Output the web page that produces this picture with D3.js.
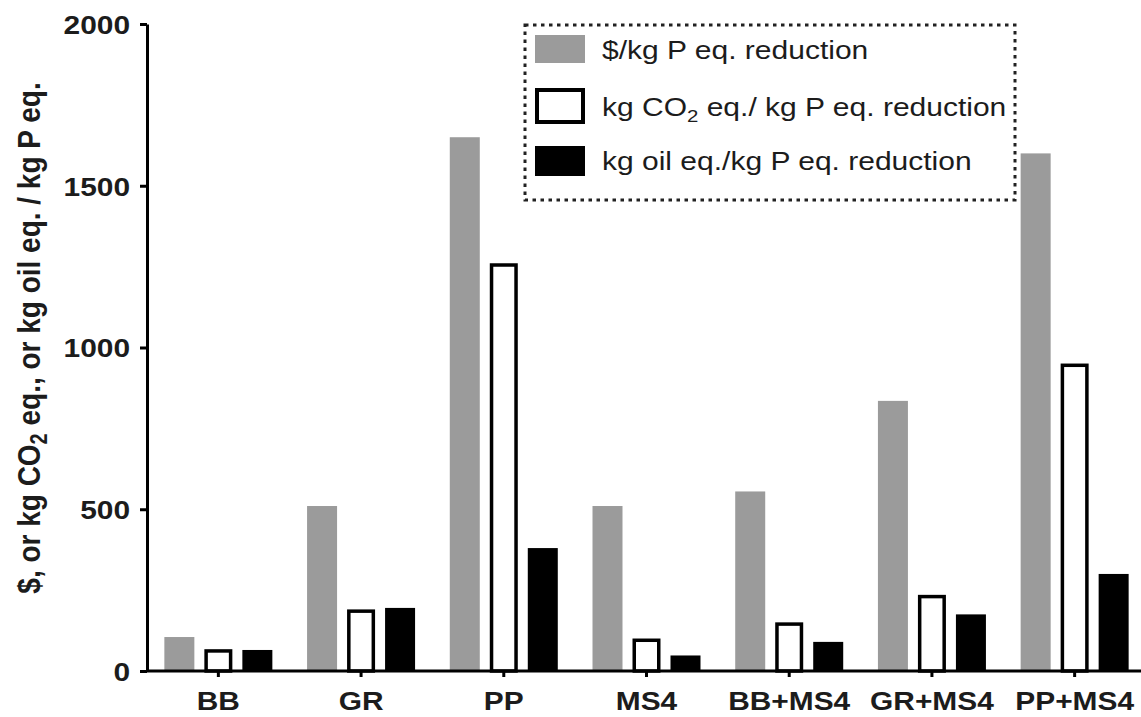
<!DOCTYPE html>
<html>
<head>
<meta charset="utf-8">
<script src="https://cdn.jsdelivr.net/npm/d3@7"></script>
<style>
  html, body { margin: 0; padding: 0; background: #fff; }
  svg { display: block; font-family: "Liberation Sans", Arial, Helvetica, sans-serif; }
</style>
</head>
<body>
<svg id="chart" width="1141" height="717"></svg>
<script>
// Treatment scenarios on the x axis
const categories = ["BB", "GR", "PP", "MS4", "BB+MS4", "GR+MS4", "PP+MS4"];

// Values per kg P eq. reduction, one array per indicator
const costPerKgP = [105, 510, 1650, 510, 555, 835, 1600];      // $/kg P eq.
const co2PerKgP  = [62, 185, 1255, 95, 145, 230, 945];         // kg CO2 eq./kg P eq.
const oilPerKgP  = [65, 195, 380, 48, 90, 175, 300];           // kg oil eq./kg P eq.

const seriesKeys = ["cost", "co2", "oil"];
const seriesValues = { cost: costPerKgP, co2: co2PerKgP, oil: oilPerKgP };

// Y axis ticks
const yTicks = [0, 500, 1000, 1500, 2000];

const svg = d3.select("#chart");
const W = 1141;
const plotLeft = 147, plotRight = 1146, plotTop = 24, plotBottom = 671;
const sx = 1.15;   // horizontal stretch of the lettering

const x = d3.scaleBand().domain(categories).range([plotLeft, plotRight]).paddingInner(0).paddingOuter(0);
const xSub = d3.scaleBand().domain(seriesKeys).range([-54, 54]).paddingInner(0.2308);
const y = d3.scaleLinear().domain([0, 2000]).range([plotBottom, plotTop]);

const textColor = "#1c1c1c";
const barStyle = {
  cost: { fill: "#9b9b9b", stroke: "none", sw: 0 },
  co2:  { fill: "#ffffff", stroke: "#000", sw: 3.5 },
  oil:  { fill: "#000000", stroke: "none", sw: 0 }
};

// Bars
const groups = svg.append("g").selectAll("g")
  .data(categories)
  .join("g")
  .attr("transform", d => `translate(${x(d) + x.bandwidth() / 2},0)`);

groups.selectAll("rect")
  .data((d, i) => seriesKeys.map(k => ({ key: k, value: seriesValues[k][i] })))
  .join("rect")
  .attr("x", d => {
    const st = barStyle[d.key];
    return st.sw ? xSub(d.key) + st.sw / 2 + 1 : xSub(d.key);
  })
  .attr("width", d => {
    const st = barStyle[d.key];
    return st.sw ? xSub.bandwidth() - st.sw - 2 : xSub.bandwidth();
  })
  .attr("y", d => y(d.value))
  .attr("height", d => y(0) - y(d.value))
  .attr("fill", d => barStyle[d.key].fill)
  .attr("stroke", d => barStyle[d.key].stroke)
  .attr("stroke-width", d => barStyle[d.key].sw);

// Y axis
const yAxis = svg.append("g")
  .attr("transform", `translate(${plotLeft},0)`)
  .call(d3.axisLeft(y).tickValues(yTicks).tickSize(7).tickSizeOuter(0).tickFormat(d3.format("d")));
yAxis.select(".domain").attr("stroke", "#000").attr("stroke-width", 3);
yAxis.selectAll(".tick line").attr("stroke", "#000").attr("stroke-width", 3);
yAxis.selectAll(".tick text")
  .attr("x", -17 / sx)
  .attr("dy", "0.36em")
  .attr("transform", `scale(${sx},1)`)
  .attr("fill", textColor)
  .style("font-size", "26px")
  .style("font-weight", "bold");

// X axis
const xAxis = svg.append("g")
  .attr("transform", `translate(0,${plotBottom})`)
  .call(d3.axisBottom(x).tickSize(6).tickSizeOuter(0).tickPadding(15));
xAxis.select(".domain").attr("stroke", "#000").attr("stroke-width", 3)
  .attr("d", `M${plotLeft},0H${W}`);
xAxis.selectAll(".tick line").attr("stroke", "#000").attr("stroke-width", 3);
xAxis.selectAll(".tick text")
  .attr("transform", `scale(${sx},1)`)
  .attr("fill", textColor)
  .style("font-size", "26px")
  .style("font-weight", "bold");

// Y axis title
const yTitle = svg.append("text")
  .attr("transform", `translate(40,338) scale(${sx},1) rotate(-90)`)
  .attr("text-anchor", "middle")
  .attr("fill", textColor)
  .style("font-size", "28px")
  .style("font-weight", "bold");
yTitle.append("tspan").text("$, or kg CO");
yTitle.append("tspan").attr("dy", 6).style("font-size", "20px").text("2");
yTitle.append("tspan").attr("dy", -6).text(" eq., or kg oil eq. / kg P eq.");

// Legend
const legend = svg.append("g");
legend.append("rect")
  .attr("x", 525).attr("y", 25).attr("width", 490).attr("height", 175)
  .attr("fill", "none").attr("stroke", "#222").attr("stroke-width", 3)
  .attr("stroke-dasharray", "3.5,4.5");

const legendItems = [
  { key: "cost", parts: [["$/kg P eq. reduction"]] },
  { key: "co2", parts: [["kg CO"], ["2", "sub"], [" eq./ kg P eq. reduction"]] },
  { key: "oil", parts: [["kg oil eq./kg P eq. reduction"]] }
];
const rowY = [49, 106, 160];
const lsx = 1.2;

legendItems.forEach((it, i) => {
  const st = barStyle[it.key];
  const cy = rowY[i];
  if (st.sw) {
    legend.append("rect")
      .attr("x", 537).attr("y", cy - 16).attr("width", 46).attr("height", 32)
      .attr("fill", st.fill).attr("stroke", st.stroke).attr("stroke-width", 4);
  } else {
    legend.append("rect")
      .attr("x", 535).attr("y", cy - 14).attr("width", 50).attr("height", i === 0 ? 28 : 30)
      .attr("fill", st.fill);
  }
  const t = legend.append("text")
    .attr("transform", `translate(602,${cy + 10}) scale(${lsx},1)`)
    .attr("fill", textColor)
    .style("font-size", "25px");
  it.parts.forEach(p => {
    if (p[1] === "sub") {
      t.append("tspan").attr("dy", 6).style("font-size", "17px").text(p[0]);
    } else {
      const ts = t.append("tspan").text(p[0]);
      if (t.selectAll("tspan").size() > 1) ts.attr("dy", -6);
    }
  });
});
</script>
</body>
</html>
